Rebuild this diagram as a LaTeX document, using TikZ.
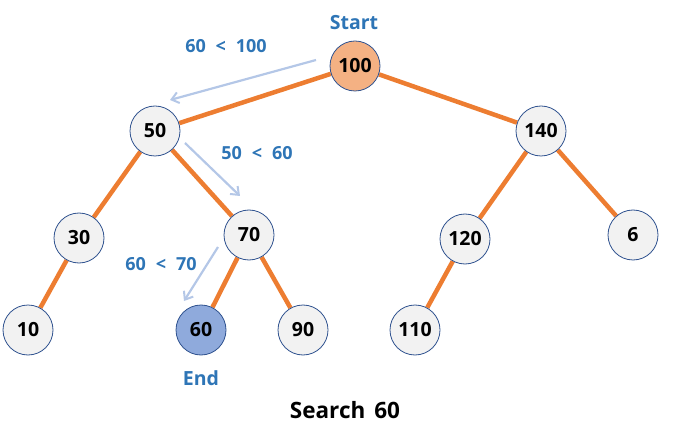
\documentclass[tikz,border=0pt]{standalone}
\usepackage{fontspec}
\setmainfont{Open Sans}
\usetikzlibrary{arrows.meta,backgrounds}
\definecolor{edgeor}{HTML}{ED7D31}
\definecolor{nodefill}{HTML}{F2F2F2}
\definecolor{nodeline}{HTML}{2F528F}
\definecolor{rootfill}{HTML}{F4B183}
\definecolor{endfill}{HTML}{8FAADC}
\definecolor{labblue}{HTML}{2E75B6}
\definecolor{arrblue}{HTML}{B4C7E7}
\tikzset{
  tnode/.style={circle,draw=nodeline,line width=0.8pt,fill=nodefill,minimum size=50pt,inner sep=0pt,font=\fontsize{19.5}{22}\selectfont\bfseries},
  tedge/.style={draw=edgeor,line width=4.5pt},
  steparrow/.style={draw=arrblue,line width=2.2pt,-{Straight Barb[length=7pt,width=11pt,line width=2pt]}},
  steplabel/.style={text=labblue,font=\fontsize{18}{20}\selectfont\bfseries},
  marklabel/.style={text=labblue,font=\fontsize{19.5}{22}\selectfont\bfseries},
}
\newcommand{\gapsp}{\hspace{0.55em}}
\begin{document}
\begin{tikzpicture}[x=1pt,y=-1pt]
\useasboundingbox (0,0) rectangle (676,443);
\node[tnode,fill=rootfill] (n100) at (355,66) {100};
\node[tnode] (n50) at (155,131) {50};
\node[tnode] (n140) at (541,131) {140};
\node[tnode] (n30) at (79,238) {30};
\node[tnode] (n70) at (249,235) {70};
\node[tnode] (n120) at (465,239) {120};
\node[tnode] (n6) at (633,235) {6};
\node[tnode] (n10) at (28,330) {10};
\node[tnode,fill=endfill] (n60) at (201,330) {60};
\node[tnode] (n90) at (303,330) {90};
\node[tnode] (n110) at (415,330) {110};
\begin{scope}[on background layer]
\draw[tedge] (n100) -- (n50);
\draw[tedge] (n100) -- (n140);
\draw[tedge] (n50) -- (n30);
\draw[tedge] (n50) -- (n70);
\draw[tedge] (n30) -- (n10);
\draw[tedge] (n70) -- (n60);
\draw[tedge] (n70) -- (n90);
\draw[tedge] (n140) -- (n120);
\draw[tedge] (n140) -- (n6);
\draw[tedge] (n120) -- (n110);
\end{scope}
\node[marklabel] (start) at (354,23) {Start};
\node[marklabel] (end) at (201,378) {End};
\node[steplabel] (l1) at (226,46) {60\gapsp<\gapsp100};
\node[steplabel] (l2) at (257,153) {50\gapsp<\gapsp60};
\node[steplabel] (l3) at (161,264) {60\gapsp<\gapsp70};
\node[font=\fontsize{22.5}{26}\selectfont\bfseries] (title) at (345,410) {Search\hspace{0.4em}60};
\coordinate (a1s) at (316,60);
\coordinate (a1e) at (170,100);
\coordinate (a2s) at (185,143);
\coordinate (a2e) at (240,196);
\coordinate (a3s) at (218,247);
\coordinate (a3e) at (184,301);
\draw[steparrow] (a1s) -- (a1e);
\draw[steparrow] (a2s) -- (a2e);
\draw[steparrow] (a3s) -- (a3e);
\end{tikzpicture}
\end{document}
